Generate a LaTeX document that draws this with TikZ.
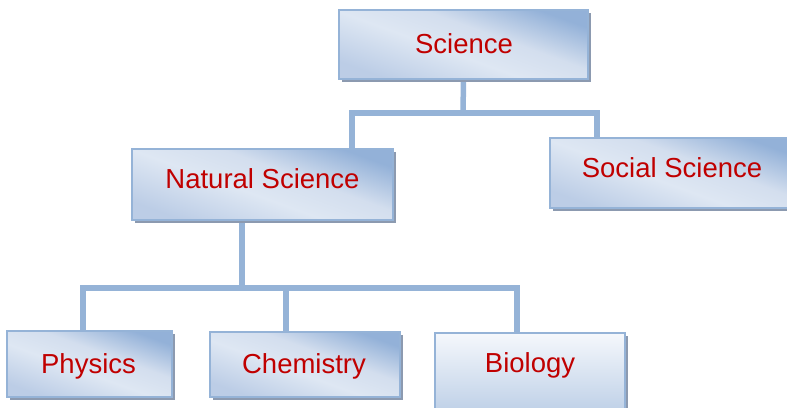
\documentclass[tikz,border=0pt]{standalone}
\usepackage{fontspec}
\setmainfont{Liberation Sans}
\usetikzlibrary{shadows}
\definecolor{linecol}{HTML}{95B3D7}
\definecolor{bordercol}{HTML}{95B3D7}
\definecolor{shadowcol}{HTML}{8C9AB0}
\definecolor{txtcol}{HTML}{C00000}
\definecolor{gA}{HTML}{BCCDE6}
\definecolor{gB}{HTML}{DEE7F3}
\definecolor{gC}{HTML}{D3DEEE}
\definecolor{gD}{HTML}{93B1D8}
\definecolor{vA}{HTML}{F5F8FC}
\definecolor{vB}{HTML}{B9CCE5}
\pgfdeclarehorizontalshading{boxshade}{100bp}{color(0bp)=(gA); color(25bp)=(gA); color(45bp)=(gB); color(58bp)=(gC); color(75bp)=(gD); color(100bp)=(gD)}
\pgfdeclareverticalshading{bioshade}{100bp}{color(0bp)=(vB); color(25bp)=(vB); color(75bp)=(vA); color(100bp)=(vA)}
\pgfdeclarelayer{bg}
\pgfsetlayers{bg,main}
\tikzset{
  box/.style={rectangle, draw=bordercol, line width=2pt, inner sep=0pt,
    shading=boxshade, shading angle=70,
    drop shadow={shadow xshift=3pt, shadow yshift=-3pt, fill=shadowcol, opacity=1}},
  biobox/.style={box, shading=bioshade, shading angle=0},
  lbl/.style={anchor=base, text=txtcol, font=\fontsize{27.5}{30}\selectfont, inner sep=0pt},
  conn/.style={draw=linecol, line width=5.5pt}
}
\begin{document}
\begin{tikzpicture}[x=1pt,y=-1pt]
\useasboundingbox (0,0) rectangle (787,407);
\clip (0,0) rectangle (787,407);
\node[box, minimum width=249pt, minimum height=69pt] (sci) at (463.5,44.5) {};
\node[box, minimum width=261pt, minimum height=71pt] (nat) at (262.5,184.5) {};
\node[box, minimum width=245pt, minimum height=70pt] (soc) at (672.5,173) {};
\node[box, minimum width=165pt, minimum height=66pt] (phy) at (89.5,364) {};
\node[box, minimum width=190pt, minimum height=65pt] (che) at (305,364.5) {};
\node[biobox, minimum width=190pt, minimum height=87pt] (bio) at (530,376.5) {};
\node[lbl] (tsci) at (464,53) {Science};
\node[lbl] (tnat) at (262.5,188) {Natural Science};
\node[lbl] (tsoc) at (672,177) {Social Science};
\node[lbl] (tphy) at (88.5,373) {Physics};
\node[lbl] (tche) at (304,373) {Chemistry};
\node[lbl] (tbio) at (530,372) {Biology};
\coordinate (j1) at (463,113);
\coordinate (jl) at (352,113);
\coordinate (jr) at (597,113);
\coordinate (ntop) at (352,149);
\coordinate (stop) at (597,138);
\coordinate (nbot) at (242,220);
\coordinate (j2) at (242,288);
\coordinate (pl) at (83,288);
\coordinate (pr) at (517,288);
\coordinate (ptop) at (83,331);
\coordinate (ctop) at (286,332);
\coordinate (btop) at (517,333);
\begin{pgfonlayer}{bg}
\draw[conn] (sci.south) -- (j1);
\draw[conn] (ntop) -- (jl) -- (jr) -- (stop);
\draw[conn] (nbot) -- (j2);
\draw[conn] (ptop) -- (pl) -- (pr) -- (btop);
\draw[conn] (ctop) -- (ctop |- j2);
\end{pgfonlayer}
\end{tikzpicture}
\end{document}
